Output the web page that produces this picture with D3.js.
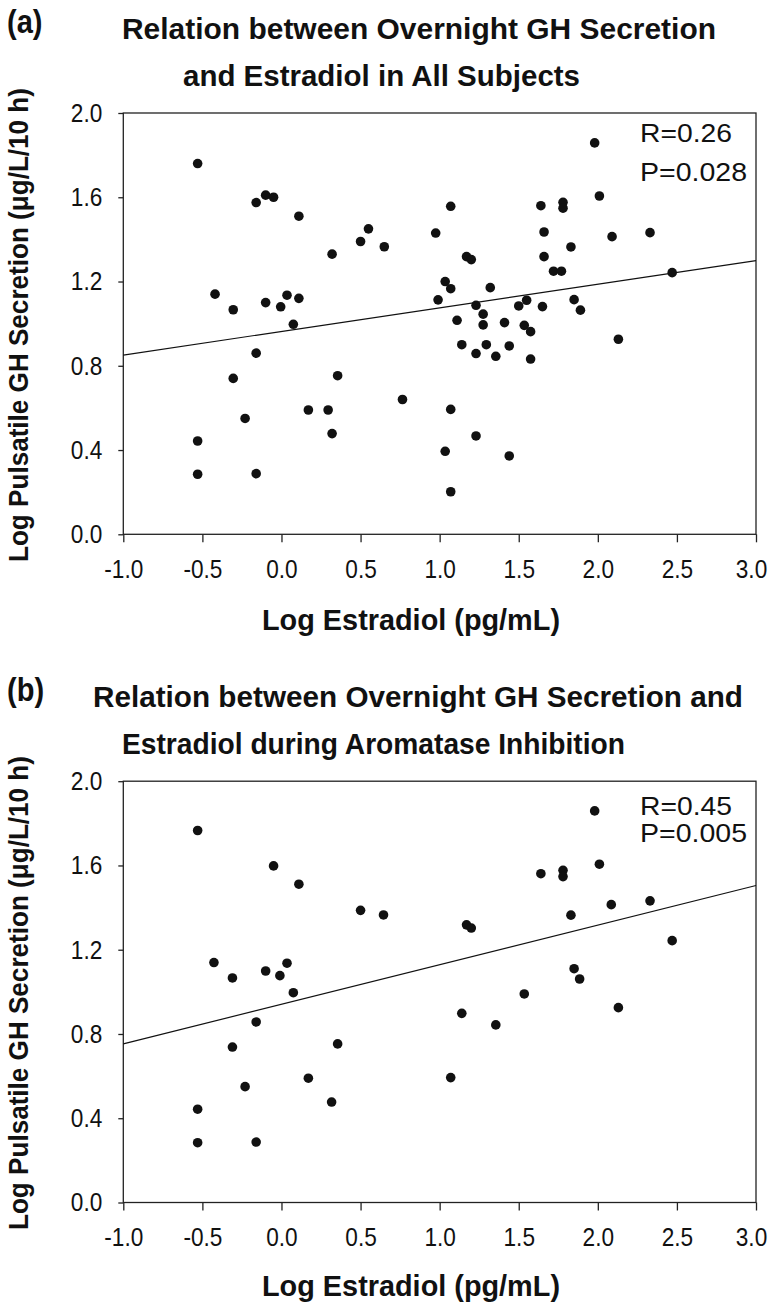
<!DOCTYPE html>
<html><head><meta charset="utf-8">
<script src="https://cdn.jsdelivr.net/npm/d3@7"></script>
<style>body{margin:0;background:#fff} svg{display:block}</style>
</head><body>
<svg id="chart" width="773" height="1304"></svg>
<script>
// ---- data ----
const xTicks = [-1.0, -0.5, 0.0, 0.5, 1.0, 1.5, 2.0, 2.5, 3.0];
const yTicks = [0.0, 0.4, 0.8, 1.2, 1.6, 2.0];

// (a) all subjects: log estradiol, log pulsatile GH
const allX = [-0.53,-0.16,-0.10,-0.05,0.11,0.32,0.50,0.55,0.65,-0.42,-0.305,-0.10,-0.005,0.035,0.11,0.075,-0.16,
  -0.305,0.355,0.765,0.17,0.295,-0.23,0.32,-0.53,-0.53,-0.16,
  1.07,0.975,1.64,1.78,1.78,2.01,1.98,1.66,2.09,2.33,1.83,1.66,1.17,1.20,1.72,1.77,2.47,1.035,1.07,1.32,0.99,1.23,1.55,1.50,1.65,1.85,1.89,1.275,1.11,1.275,1.41,1.535,1.575,1.14,1.295,1.44,2.13,1.23,1.355,1.575,
  1.07,1.23,1.035,1.44,1.07];
const allY = [1.76,1.575,1.61,1.60,1.51,1.33,1.39,1.45,1.365,1.14,1.066,1.10,1.08,1.135,1.12,0.997,0.86,
  0.74,0.753,0.64,0.59,0.59,0.55,0.478,0.443,0.285,0.288,
  1.557,1.43,1.56,1.576,1.548,1.606,1.858,1.435,1.413,1.432,1.364,1.318,1.318,1.304,1.249,1.249,1.242,1.20,1.166,1.171,1.113,1.087,1.111,1.084,1.081,1.114,1.064,1.045,1.016,0.994,1.005,0.992,0.962,0.90,0.90,0.894,0.926,0.858,0.845,0.832,
  0.593,0.467,0.394,0.372,0.202];

// (b) during aromatase inhibition
const aiX = [-0.53,-0.05,0.11,0.50,0.645,-0.427,-0.31,-0.10,-0.01,0.035,0.075,-0.16,-0.31,0.355,0.17,-0.23,0.317,-0.53,-0.53,-0.16,
  1.98,2.01,1.64,1.78,1.78,2.085,2.33,1.83,1.17,1.20,2.47,1.85,1.885,1.535,1.14,1.355,2.13,1.07];
const aiY = [1.766,1.598,1.511,1.387,1.365,1.139,1.066,1.099,1.077,1.136,0.996,0.857,0.738,0.753,0.59,0.55,0.477,0.443,0.284,0.287,
  1.859,1.606,1.561,1.577,1.547,1.414,1.432,1.364,1.318,1.303,1.243,1.11,1.061,0.99,0.898,0.843,0.925,0.593];

// fitted regression lines: [intercept, slope]
const fitAll = [0.963, 0.112];
const fitAI = [0.941, 0.188];

const statsAll = ["R=0.26", "P=0.028"];
const statsAI = ["R=0.45", "P=0.005"];

const panelLetters = ["(a)", "(b)"];
const titlesAll = ["Relation between Overnight GH Secretion", "and Estradiol in All Subjects"];
const titlesAI = ["Relation between Overnight GH Secretion and", "Estradiol during Aromatase Inhibition"];
const xLabel = "Log Estradiol (pg/mL)";
const yLabel = "Log Pulsatile GH Secretion (\u03bcg/L/10 h)";

// ---- drawing ----
const svg = d3.select("#chart");
const SANS = "'Liberation Sans', Arial, sans-serif";
const ink = "#111";

function condense(sel, f) {
  sel.each(function() {
    const w = this.getComputedTextLength();
    d3.select(this).attr("textLength", w * f).attr("lengthAdjust", "spacingAndGlyphs");
  });
}

const x = d3.scaleLinear().domain([-1, 3]).range([123.3, 756]);

function drawPanel(cfg) {
  const y = d3.scaleLinear().domain([0, 2]).range([cfg.y0, cfg.y0 - 421.3]);
  const g = svg.append("g");

  // letter + title
  const letter = g.append("text").attr("x", 7).attr("y", cfg.letterY)
    .attr("font-family", SANS).attr("font-weight", "bold").attr("font-size", 33).attr("fill", ink)
    .text(cfg.letter);
  condense(letter, 0.88);
  cfg.titles.forEach((t, i) => {
    g.append("text").attr("x", cfg.titleX[i]).attr("y", cfg.titleY[i])
      .attr("font-family", SANS).attr("font-weight", "bold").attr("font-size", 29).attr("fill", ink)
      .attr("textLength", cfg.titleW[i]).attr("lengthAdjust", "spacingAndGlyphs")
      .text(t);
  });

  // axes
  const fmt = d => d3.format(".1f")(d).replace("\u2212", "-");
  const ax = g.append("g").attr("transform", `translate(0,${cfg.y0})`)
    .call(d3.axisBottom(x).tickValues(xTicks).tickFormat(fmt).tickSize(8).tickPadding(17).tickSizeOuter(0));
  const ay = g.append("g").attr("transform", `translate(${x.range()[0]},0)`)
    .call(d3.axisLeft(y).tickValues(yTicks).tickFormat(fmt).tickSize(5).tickPadding(16).tickSizeOuter(0));
  [ax, ay].forEach(a => {
    a.select(".domain").remove();
    a.selectAll(".tick line").attr("stroke", "#222").attr("stroke-width", 1.3);
    a.selectAll(".tick text").attr("font-family", SANS).attr("font-size", 26).attr("fill", ink);
    condense(a.selectAll(".tick text"), 0.87);
  });
  // keep the last x tick label inside the picture
  ax.selectAll(".tick text").filter(d => d === xTicks[xTicks.length - 1]).attr("dx", -5);

  // frame
  g.append("rect").attr("x", x.range()[0]).attr("y", y(2))
    .attr("width", x.range()[1] - x.range()[0]).attr("height", y(0) - y(2))
    .attr("fill", "none").attr("stroke", "#222").attr("stroke-width", 1.3);

  // axis labels
  g.append("text").attr("x", cfg.xLabelX).attr("y", cfg.xLabelY)
    .attr("font-family", SANS).attr("font-weight", "bold").attr("font-size", 29).attr("fill", ink)
    .attr("textLength", 298).attr("lengthAdjust", "spacingAndGlyphs").text(xLabel);
  g.append("text").attr("transform", `translate(28,${cfg.yLabelBottom}) rotate(-90)`)
    .attr("font-family", SANS).attr("font-weight", "bold").attr("font-size", 28).attr("fill", ink)
    .attr("textLength", 474).attr("lengthAdjust", "spacingAndGlyphs").text(yLabel);

  // regression line
  const fit = cfg.fit;
  g.append("line")
    .attr("x1", x(-1)).attr("y1", y(fit[0] + fit[1] * -1))
    .attr("x2", x(3)).attr("y2", y(fit[0] + fit[1] * 3))
    .attr("stroke", ink).attr("stroke-width", 1.2);

  // points
  g.selectAll("circle.pt").data(cfg.xs.map((v, i) => [v, cfg.ys[i]])).enter()
    .append("circle").attr("class", "pt")
    .attr("cx", d => x(d[0])).attr("cy", d => y(d[1])).attr("r", 4.8).attr("fill", ink);

  // stats
  cfg.stats.forEach((s, i) => {
    g.append("text").attr("x", 640).attr("y", cfg.statsY[i])
      .attr("font-family", SANS).attr("font-size", 25).attr("fill", ink)
      .attr("textLength", i === 0 ? 92 : 107).attr("lengthAdjust", "spacingAndGlyphs").text(s);
  });
}

drawPanel({
  letter: panelLetters[0], letterY: 33, titles: titlesAll,
  titleX: [122, 183], titleY: [39, 86], titleW: [594, 397],
  y0: 534.3, xs: allX, ys: allY, fit: fitAll,
  stats: statsAll, statsY: [142, 181],
  xLabelX: 262, xLabelY: 630, yLabelBottom: 562
});
drawPanel({
  letter: panelLetters[1], letterY: 701, titles: titlesAI,
  titleX: [93, 122], titleY: [707, 754], titleW: [650, 503],
  y0: 1202.5, xs: aiX, ys: aiY, fit: fitAI,
  stats: statsAI, statsY: [815, 842],
  xLabelX: 262, xLabelY: 1296, yLabelBottom: 1230
});
</script>
</body></html>
